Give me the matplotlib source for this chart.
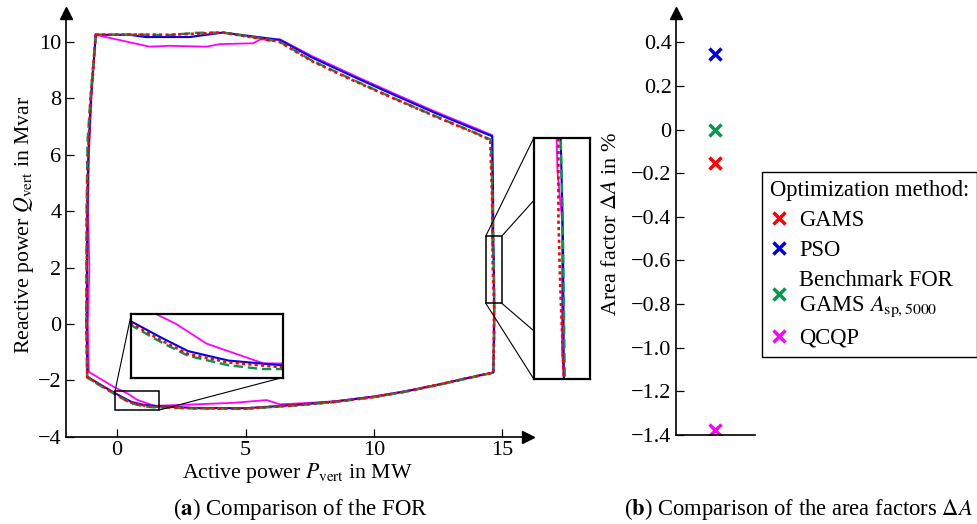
import matplotlib.pyplot as plt
from matplotlib.patches import Rectangle
from matplotlib.ticker import FuncFormatter

plt.rcParams["font.family"] = ["Liberation Serif", "DejaVu Serif"]
plt.rcParams["mathtext.fontset"] = "stix"

# --- DATA: feasible operation region contours (P in MW, Q in Mvar) ---
pso_p = [-0.83, 0.48, 1.13, 2.82, 4.11, 6.34, 7.6, 9.19, 10.8, 12.4, 14.0, 14.61,
         14.64, 14.645, 14.67, 14.68, 14.68, 14.65, 13.5, 12.58, 11.2, 10.0, 8.5,
         7.0, 5.0, 3.0, 1.63, 1.03, 0.57, 0.27, -0.09, -0.6, -1.16, -1.18, -1.16,
         -1.12, -1.02, -0.83]
pso_q = [10.26, 10.26, 10.18, 10.18, 10.34, 10.08, 9.45, 8.78, 8.12, 7.48, 6.88, 6.66,
         4.5, 3.1, 2.15, 0.74, -0.5, -1.72, -1.95, -2.14, -2.40, -2.58, -2.75,
         -2.87, -2.99, -2.98, -2.92, -2.87, -2.77, -2.63, -2.45, -2.18, -1.87, 0.0, 4.0,
         6.0, 8.0, 10.26]

gams_p = [-0.83, 0.5, 2.0, 3.1, 4.11, 6.3, 7.6, 9.19, 10.8, 12.4, 14.0, 14.53,
          14.6, 14.62, 14.62, 14.64, 14.68, 14.67, 14.65, 13.5, 12.58, 11.2, 10.0,
          8.5, 7.0, 5.0, 3.0, 1.63, 1.03, 0.57, 0.27, -0.09, -0.6, -1.16, -1.19,
          -1.17, -1.13, -1.03, -0.83]
gams_q = [10.26, 10.27, 10.26, 10.30, 10.34, 10.02, 9.32, 8.64, 7.99, 7.36, 6.75, 6.52,
          4.5, 3.1, 2.31, 1.66, 0.74, -0.5, -1.72, -1.95, -2.14, -2.40, -2.59,
          -2.76, -2.88, -3.0, -2.99, -2.94, -2.89, -2.80, -2.66, -2.47, -2.2, -1.89, 0.0,
          4.0, 6.0, 8.0, 10.26]

bench_p = [-0.83, 0.5, 2.0, 3.08, 4.11, 6.3, 7.6, 9.19, 10.8, 12.4, 14.0, 14.55,
           14.62, 14.645, 14.665, 14.68, 14.69, 14.68, 14.65, 13.5, 12.58, 11.2,
           10.0, 8.5, 7.0, 5.0, 3.0, 1.63, 1.41, 1.03, 0.57, 0.27, -0.09, -0.6,
           -1.17, -1.2, -1.19, -1.15, -1.04, -0.83]
bench_q = [10.26, 10.27, 10.25, 10.33, 10.34, 10.03, 9.34, 8.66, 8.0, 7.37, 6.76, 6.54,
           4.5, 3.1, 2.4, 1.5, 0.74, -0.5, -1.73, -1.96, -2.15, -2.41,
           -2.6, -2.77, -2.89, -3.01, -3.0, -2.96, -2.96, -2.92, -2.82, -2.68, -2.49, -2.22,
           -1.9, 0.0, 4.0, 6.5, 8.0, 10.26]

qcqp_p = [-0.83, 1.26, 2.04, 3.48, 4.0, 5.3, 5.63, 5.9, 6.34, 7.6, 9.19, 10.8, 12.4,
          14.0, 14.6, 14.6, 14.6, 14.61, 14.66, 14.66, 14.68, 14.66, 14.65, 13.5,
          12.58, 11.2, 10.0, 8.5, 7.5, 6.34, 5.82, 4.5, 3.08, 1.63, 1.43, 0.78, 0.43,
          0.21, -0.04, -1.1, -1.14, -1.08, -1.13, -1.1, -1.0, -0.83]
qcqp_q = [10.26, 9.84, 9.87, 9.84, 9.93, 9.96, 10.12, 10.05, 10.1, 9.50, 8.83, 8.17, 7.53,
          6.93, 6.70, 4.5, 3.1, 2.77, 2.31, 1.01, 0.74, -0.3, -1.72, -1.94,
          -2.13, -2.39, -2.57, -2.74, -2.80, -2.85, -2.70, -2.80, -2.85, -2.90, -2.90, -2.69, -2.48,
          -2.38, -2.28, -1.70, 0.0, 2.0, 4.0, 6.0, 8.0, 10.26]

# --- DATA: area factors ---
methods = ["GAMS", "PSO", "Benchmark FOR\nGAMS $A_{\\mathrm{sp,5000}}$", "QCQP"]
area_factor = [-0.155, 0.347, 0.0, -1.377]
method_colors = ["#ff0000", "#0000e6", "#00994d", "#ff00ff"]

# drawing order: QCQP at the bottom, GAMS on top
series = [
    (qcqp_p, qcqp_q, "#ff00ff", "-", 1.3, 2.0),
    (pso_p, pso_q, "#0000e6", "-", 1.5, 2.1),
    (bench_p, bench_q, "#00994d", (0, (4, 2)), 1.7, 2.2),
    (gams_p, gams_q, "#ff0000", (0, (1.2, 1.2)), 1.9, 2.3),
]


def draw_for(a):
    for p, q, c, ls, lw, z in series:
        a.plot(p, q, color=c, linestyle=ls, linewidth=lw, zorder=z)


fig = plt.figure(figsize=(9.78, 5.24), dpi=100)

# --- (a) FOR ---
ax = fig.add_axes([0.0672, 0.1666, 0.4727, 0.8084])
draw_for(ax)
ax.set_xlim(-2, 16)
ax.set_ylim(-4, 11.03)
ax.set_xticks([0, 5, 10, 15])
ax.set_yticks(range(-4, 11, 2))
ax.tick_params(direction="in", length=6, width=0.9, labelsize=16, pad=3)
for s in ["top", "right"]:
    ax.spines[s].set_visible(False)
for s in ["left", "bottom"]:
    ax.spines[s].set_linewidth(1.2)
ax.plot(1, 0, ">k", ms=9, transform=ax.transAxes, clip_on=False)
ax.plot(0, 1, "^k", ms=9, transform=ax.transAxes, clip_on=False)
ax.set_xlabel("Active power $P_{\\mathrm{vert}}$ in MW", fontsize=15.7)
ax.xaxis.set_label_coords(0.502, -0.058)
ax.set_ylabel("Reactive power $Q_{\\mathrm{vert}}$ in Mvar", fontsize=15.7)
ax.yaxis.set_label_coords(-0.064, 0.5)

# zoom windows: (source x0, x1, y0, y1), (inset x0, x1, y0, y1), connector corners
zooms = [
    ((-0.08, 1.65, -3.05, -2.38), (0.55, 6.45, -1.90, 0.34), [(0, 1), (1, 0)]),
    ((14.35, 14.97, 0.74, 3.11), (16.23, 18.42, -1.96, 6.61),
     [(0, 1), (1, 1), (0, 0), (1, 0)]),
]
for src, dst, corners in zooms:
    ax.add_patch(Rectangle((src[0], src[2]), src[1] - src[0], src[3] - src[2],
                           fill=False, ec="k", lw=1.1, zorder=4))
    for ix, iy in corners:
        ax.plot([src[ix], dst[ix]], [src[2 + iy], dst[2 + iy]], color="k",
                lw=0.8, zorder=4, clip_on=False)
    axins = ax.inset_axes([dst[0], dst[2], dst[1] - dst[0], dst[3] - dst[2]],
                          transform=ax.transData)
    draw_for(axins)
    axins.set_xlim(src[0], src[1])
    axins.set_ylim(src[2], src[3])
    axins.set_xticks([])
    axins.set_yticks([])
    axins.set_facecolor("white")
    for s in axins.spines.values():
        s.set_linewidth(1.6)

# --- (b) area factors ---
ax2 = fig.add_axes([0.6909, 0.1698, 0.0811, 0.8054])
for m, v, c in zip(methods, area_factor, method_colors):
    ax2.plot(1, v, "x", color=c, ms=8, mew=2.5, label=m, linestyle="none")
ax2.set_xlim(0, 2)
ax2.set_ylim(-1.4, 0.534)
ax2.set_yticks([-1.4, -1.2, -1.0, -0.8, -0.6, -0.4, -0.2, 0, 0.2, 0.4])
ax2.yaxis.set_major_formatter(
    FuncFormatter(lambda v, pos: "0" if abs(v) < 1e-9 else f"{v:.1f}".replace("-", "\u2212")))
ax2.set_xticks([])
ax2.tick_params(direction="in", length=6, width=0.9, labelsize=16, pad=3)
ax2.spines["top"].set_visible(False)
ax2.spines["right"].set_visible(False)
for s in ["left", "bottom"]:
    ax2.spines[s].set_linewidth(1.2)
ax2.plot(0, 1, "^k", ms=9, transform=ax2.transAxes, clip_on=False)
ax2.set_ylabel("Area factor $\\Delta A$ in %", fontsize=16)
ax2.yaxis.set_label_coords(-0.69, 0.5)

leg = fig.legend(*ax2.get_legend_handles_labels(), loc="upper left",
                 bbox_to_anchor=(761.7 / 978, 1 - 171.7 / 524), borderaxespad=0,
                 title="Optimization method:",
                 fontsize=16.3, title_fontsize=16.3, fancybox=False, edgecolor="k",
                 framealpha=1, handlelength=0.8, handletextpad=0.5, borderpad=0.35,
                 labelspacing=0.4, alignment="left")
leg.get_frame().set_linewidth(1.0)

fig.text(0.307, 0.029, "($\\mathbf{a}$) Comparison of the FOR", ha="center",
         va="center", fontsize=16.5)
fig.text(0.816, 0.029, "($\\mathbf{b}$) Comparison of the area factors $\\Delta A$",
         ha="center", va="center", fontsize=16.3)

fig.savefig("out.png", dpi=100)
